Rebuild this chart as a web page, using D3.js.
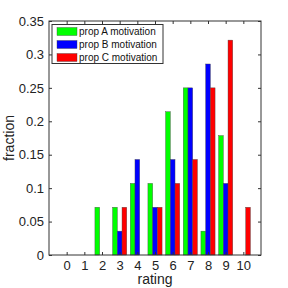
<!DOCTYPE html>
<html>
<head>
<meta charset="utf-8">
<script src="https://cdn.jsdelivr.net/npm/d3@7"></script>
<style>
  body { margin: 0; background: #fff; }
  text { font-family: "Liberation Sans", Arial, sans-serif; }
</style>
</head>
<body>
<div id="chart"></div>
<script>
/* DATA */
const ratings = [0, 1, 2, 3, 4, 5, 6, 7, 8, 9, 10];
const seriesNames = ["prop A motivation", "prop B motivation", "prop C motivation"];
const seriesColors = ["#00ff00", "#0000ff", "#ff0000"];
// fractions (multiples of 1/28)
const propA = [0, 0, 0.0714, 0.0714, 0.1071, 0.1071, 0.2143, 0.25, 0.0357, 0.1786, 0];
const propB = [0, 0, 0, 0.0357, 0.1429, 0.0714, 0.1429, 0.25, 0.2857, 0.1071, 0];
const propC = [0, 0, 0, 0.0714, 0, 0.0714, 0.1071, 0.1429, 0.25, 0.3214, 0.0714];
const yTicks = [0, 0.05, 0.1, 0.15, 0.2, 0.25, 0.3, 0.35];

const width = 288, height = 288,
  margin = { top: 21, bottom: 33, left: 49, right: 27 };

const svg = d3.select("#chart").append("svg")
  .attr("width", width)
  .attr("height", height);

const xScale = d3.scaleLinear()
  .domain([-1, 11])
  .range([margin.left, width - margin.right]);

const yScale = d3.scaleLinear()
  .domain([0, 0.35])
  .range([height - margin.bottom, margin.top]);

// bars, grouped like matlab's bar()
const allSeries = [propA, propB, propC];
const barW = 0.8 / 3;
allSeries.forEach((vals, i) => {
  svg.append("g")
    .selectAll("rect")
    .data(ratings.map((r, j) => ({ r: r, v: vals[j] })).filter(d => d.v > 0))
    .join("rect")
    .attr("x", d => xScale(d.r - 0.4 + i * barW))
    .attr("width", xScale(barW) - xScale(0))
    .attr("y", d => yScale(d.v))
    .attr("height", d => yScale(0) - yScale(d.v))
    .attr("fill", seriesColors[i])
    .attr("stroke", "#444")
    .attr("stroke-width", 0.4);
});

// axes (ticks inward, box on)
const axisColor = "#333";
const xAxis = d3.axisBottom(xScale).tickValues(ratings).tickSize(-3).tickPadding(5.5).tickFormat(d3.format("d"));
const xAxisTop = d3.axisTop(xScale).tickValues(ratings).tickSize(-3).tickFormat("");
const yAxis = d3.axisLeft(yScale).tickValues(yTicks).tickSize(-3).tickPadding(5).tickFormat(d => d === 0 ? "0" : String(d));
const yAxisRight = d3.axisRight(yScale).tickValues(yTicks).tickSize(-3).tickFormat("");

function styleAxis(g) {
  g.select(".domain").remove();
  g.selectAll("line").attr("stroke", axisColor);
  g.selectAll("text").attr("font-size", 13).attr("fill", "#222");
}

svg.append("g")
  .attr("transform", `translate(0,${height - margin.bottom})`)
  .call(xAxis).call(styleAxis);
svg.append("g")
  .attr("transform", `translate(0,${margin.top})`)
  .call(xAxisTop).call(styleAxis);
svg.append("g")
  .attr("transform", `translate(${margin.left},0)`)
  .call(yAxis).call(styleAxis);
svg.append("g")
  .attr("transform", `translate(${width - margin.right},0)`)
  .call(yAxisRight).call(styleAxis);

// box
svg.append("rect")
  .attr("x", margin.left)
  .attr("y", margin.top)
  .attr("width", width - margin.left - margin.right)
  .attr("height", height - margin.top - margin.bottom)
  .attr("fill", "none")
  .attr("stroke", axisColor)
  .attr("stroke-width", 1);

// axis labels
svg.append("text")
  .attr("x", (margin.left + width - margin.right) / 2)
  .attr("y", 284)
  .attr("text-anchor", "middle")
  .attr("font-size", 14)
  .attr("fill", "#222")
  .text("rating");

svg.append("text")
  .attr("transform", `translate(14,${(margin.top + height - margin.bottom) / 2}) rotate(-90)`)
  .attr("text-anchor", "middle")
  .attr("font-size", 14)
  .attr("fill", "#222")
  .text("fraction");

// legend
const legend = svg.append("g").attr("transform", "translate(52,24.5)");
legend.append("rect")
  .attr("width", 111)
  .attr("height", 39)
  .attr("fill", "#fff")
  .attr("stroke", axisColor)
  .attr("stroke-width", 1);
const row = legend.selectAll("g.row")
  .data(seriesNames)
  .join("g")
  .attr("class", "row")
  .attr("transform", (d, i) => `translate(0,${7 + i * 13})`);
row.append("rect")
  .attr("x", 5)
  .attr("y", -4)
  .attr("width", 20)
  .attr("height", 8)
  .attr("fill", (d, i) => seriesColors[i])
  .attr("stroke", "#444")
  .attr("stroke-width", 0.4);
row.append("text")
  .attr("x", 27)
  .attr("y", 3.5)
  .attr("font-size", 10)
  .attr("fill", "#111")
  .text(d => d);
</script>
</body>
</html>
